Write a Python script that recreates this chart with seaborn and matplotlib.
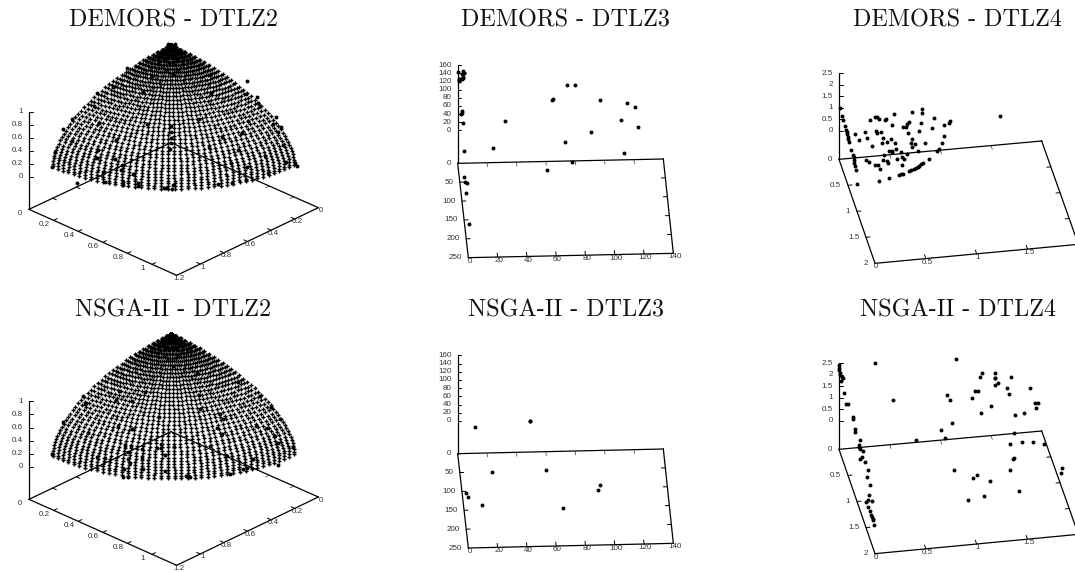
import numpy as np
import pandas as pd
import matplotlib
matplotlib.use("Agg")
import matplotlib.pyplot as plt
import seaborn as sns

sns.set_style("white")
plt.rcParams['font.family'] = ['Liberation Sans', 'DejaVu Sans']

# Pareto front grid of the DTLZ2 panels, read as angles on the sphere (degrees)
polar_deg = [0, 2.25, 4.5, 6.75, 9, 11.25, 13.5, 15.75, 18, 20.25, 22.5, 24.75, 27, 29.25, 31.5, 33.75, 36, 38.25,
             40.5, 42.75, 45, 47.25, 49.5, 51.75, 54, 56.25, 58.5, 60.75, 63, 65.25, 67.5, 69.75, 72, 74.25, 76.5,
             78.75, 81, 83.25, 85.5, 87.75, 90]
azim_deg = [0, 2.25, 4.5, 6.75, 9, 11.25, 13.5, 15.75, 18, 20.25, 22.5, 24.75, 27, 29.25, 31.5, 33.75, 36, 38.25,
            40.5, 42.75, 45, 47.25, 49.5, 51.75, 54, 56.25, 58.5, 60.75, 63, 65.25, 67.5, 69.75, 72, 74.25, 76.5,
            78.75, 81, 83.25, 85.5, 87.75, 90]

demors_dtlz2_u = [505, 525, 380, 457, 523, 630, 740, 338, 428, 633, 738, 772, 290, 775, 780, 283, 217, 296, 441, 598,
                  513, 743, 828, 188, 818, 843, 513, 513, 726, 835, 217, 348, 665, 850, 165, 293, 513, 510, 628, 715,
                  795, 292, 345, 367, 157, 858, 884, 892, 692, 740, 362, 398, 310, 230, 315, 370, 368, 415, 415, 493,
                  515, 497, 518, 655, 695, 738, 805]
demors_dtlz2_v = [132, 132, 203, 228, 226, 226, 244, 262, 275, 280, 282, 292, 280, 310, 318, 318, 357, 368, 373, 356,
                  378, 364, 350, 388, 373, 380, 395, 415, 398, 397, 422, 420, 412, 435, 456, 450, 430, 448, 440, 450,
                  468, 475, 477, 494, 500, 485, 490, 498, 490, 500, 510, 522, 515, 550, 547, 555, 545, 558, 548, 565,
                  566, 565, 555, 552, 550, 540, 520]
nsga_dtlz2_u = [248, 258, 255, 358, 435, 347, 395, 190, 263, 355, 397, 478, 598, 592, 520, 715, 780, 813, 660, 668,
                840, 800, 768, 652, 665, 825, 835, 880, 630, 375, 392, 470, 484, 482, 425, 522, 383, 495, 290, 315,
                427, 385, 390, 372, 430, 495, 368, 385, 558, 570, 690, 730, 740, 760, 835, 155, 680, 600]
nsga_dtlz2_v = [330, 350, 355, 315, 317, 343, 345, 407, 440, 420, 430, 394, 328, 262, 240, 287, 330, 362, 385, 400,
                400, 425, 420, 425, 445, 450, 470, 482, 480, 480, 480, 487, 475, 485, 490, 482, 497, 507, 513, 517,
                515, 520, 530, 550, 548, 555, 572, 574, 570, 574, 565, 550, 545, 520, 538, 505, 510, 370]
demors_dtlz3_u = [174, 178, 185, 188, 192, 186, 193, 188, 190, 181, 176, 178, 186, 185, 183, 189, 192, 278, 314, 441,
                  455, 460, 494, 501, 526, 515, 574, 601, 662, 672, 680, 706, 715, 193, 195, 200, 198, 207]
demors_dtlz3_v = [215, 240, 238, 213, 220, 222, 220, 235, 232, 236, 243, 237, 332, 340, 341, 370, 452, 445, 363, 511,
                  299, 297, 425, 254, 255, 487, 397, 300, 360, 460, 308, 322, 381, 532, 547, 549, 578, 672]
nsga_dtlz3_u = [224, 389, 391, 275, 438, 198, 203, 246, 490, 593, 600]
nsga_dtlz3_v = [424, 404, 405, 557, 551, 622, 633, 657, 667, 613, 597]
demors_dtlz4_u = [194, 202, 205, 210, 213, 215, 216, 218, 220, 223, 241, 252, 270, 276, 285, 292, 299, 306, 313, 302,
                  307, 318, 323, 322, 336, 348, 360, 330, 333, 358, 352, 411, 440, 441, 476, 439, 471, 383, 393, 395,
                  403, 398, 431, 411, 408, 411, 420, 449, 429, 364, 342, 350, 326, 350, 379, 380, 395, 366, 386, 382,
                  229, 235, 236, 237, 238, 240, 242, 247, 272, 283, 299, 309, 323, 336, 340, 315, 312, 343, 373, 379,
                  384, 402, 409, 416, 422, 428, 433, 438, 445, 463, 485, 491, 500, 508, 507, 522, 526, 676]
demors_dtlz4_v = [325, 349, 360, 378, 390, 397, 403, 410, 418, 425, 401, 419, 396, 413, 361, 439, 352, 351, 357, 394,
                  400, 397, 413, 430, 425, 418, 429, 360, 357, 342, 375, 336, 327, 340, 355, 370, 383, 380, 382, 372,
                  366, 398, 394, 418, 428, 440, 431, 428, 453, 447, 453, 457, 465, 454, 457, 470, 463, 476, 478, 494,
                  450, 465, 472, 480, 490, 498, 510, 552, 481, 487, 495, 494, 481, 484, 490, 508, 543, 535, 525, 523,
                  521, 514, 510, 507, 504, 500, 497, 493, 489, 476, 453, 446, 429, 408, 375, 370, 362, 348]
nsga_dtlz4_u = [191, 192, 193, 194, 196, 200, 205, 197, 206, 214, 219, 233, 234, 241, 240, 256, 253, 253, 254, 264,
                262, 255, 270, 278, 277, 285, 283, 278, 273, 290, 280, 285, 289, 291, 293, 295, 298, 300, 354, 424,
                497, 509, 530, 516, 525, 542, 590, 599, 610, 615, 620, 618, 649, 660, 660, 661, 659, 668, 696, 703,
                707, 721, 746, 764, 779, 789, 782, 718, 705, 742, 775, 807, 860, 857, 714, 718, 705, 732, 537, 595,
                607, 645, 628, 578]
nsga_dtlz4_v = [238, 245, 252, 260, 268, 274, 276, 286, 322, 354, 354, 392, 400, 428, 437, 462, 478, 484, 489, 495,
                514, 520, 528, 552, 572, 598, 626, 642, 649, 646, 662, 676, 688, 693, 698, 703, 716, 231, 342, 463,
                432, 455, 410, 326, 341, 220, 336, 316, 314, 273, 260, 380, 360, 262, 275, 276, 296, 292, 306, 324,
                273, 387, 380, 305, 350, 352, 367, 440, 474, 467, 469, 473, 546, 561, 520, 516, 552, 614, 551, 575,
                566, 585, 631, 643]

ticks_dtlz2 = [0, 0.2, 0.4, 0.6, 0.8, 1, 1.2]
ticks_dtlz2_z = [0, 0.2, 0.4, 0.6, 0.8, 1]
ticks_dtlz3_x = [0, 20, 40, 60, 80, 100, 120, 140]
ticks_dtlz3_y = [0, 50, 100, 150, 200, 250]
ticks_dtlz3_z = [0, 20, 40, 60, 80, 100, 120, 140, 160]
ticks_dtlz4_xy = [0, 0.5, 1, 1.5, 2]
ticks_dtlz4_z = [0, 0.5, 1, 1.5, 2, 2.5]


def new_panel(fig, x, y, w, h):
    ax = fig.add_axes([x / 1075, 1 - (y + h) / 572, w / 1075, h / 572])
    ax.set_xlim(0, w * 3)
    ax.set_ylim(h * 3, 0)
    ax.axis("off")
    return ax


def tick_text(ax, x, y, s, ha="center"):
    # gnuplot drops labels that fall outside the canvas
    if x > ax.get_xlim()[1] - 12:
        return
    ax.text(x, y, s, fontsize=5.8, color="#333333", ha=ha, va="center")


def fmt(v):
    return f"{v:g}"


def unit(p, q, n=12.0):
    d = np.array(q, float) - np.array(p, float)
    return d / np.hypot(*d) * n


def draw_box(ax, bl, br, fl, fr, xt, yt):
    bl, br, fl, fr = [np.array(c, float) for c in (bl, br, fl, fr)]
    for a, b in [(bl, br), (br, fr), (fr, fl), (fl, bl)]:
        ax.plot([a[0], b[0]], [a[1], b[1]], color="black", lw=0.9, solid_capstyle="projecting")
    for v in xt[1:-1]:
        f = v / xt[-1]
        p, q = bl + (br - bl) * f, fl + (fr - fl) * f
        s = unit(p, q)
        ax.plot([p[0], p[0] + s[0]], [p[1], p[1] + s[1]], color="#333333", lw=0.5)
        ax.plot([q[0], q[0] - s[0]], [q[1], q[1] - s[1]], color="black", lw=0.7)
    for v in yt[1:-1]:
        f = v / yt[-1]
        p, q = bl + (fl - bl) * f, br + (fr - br) * f
        s = unit(p, q)
        ax.plot([p[0], p[0] + s[0]], [p[1], p[1] + s[1]], color="black", lw=0.7)
        ax.plot([q[0], q[0] - s[0]], [q[1], q[1] - s[1]], color="black", lw=0.7)


def draw_z_axis(ax, x0, ybase, z0, zmax, zt):
    ax.plot([x0, x0], [ybase, zmax], color="black", lw=0.9)
    for t in zt:
        yy = z0 + (zmax - z0) * t / zt[-1]
        ax.plot([x0, x0 + 11], [yy, yy], color="black", lw=0.7)
        tick_text(ax, x0 - 19, yy, fmt(t), ha="right")


def draw_title(ax, title, title_xy):
    ax.text(title_xy[0], title_xy[1] + 5, title, fontsize=17.4, family=["cmr10", "Liberation Serif"],
            ha="center", va="center", color="#111111")


def draw_flat_panel(ax, title, u, v, bl, br, fl, fr, z0, zmax, xt, yt, zt, title_xy):
    draw_box(ax, bl, br, fl, fr, xt, yt)
    draw_z_axis(ax, bl[0], bl[1], z0, zmax, zt)
    for t in yt:
        f = t / yt[-1]
        tick_text(ax, bl[0] + (fl[0] - bl[0]) * f - 20, bl[1] + (fl[1] - bl[1]) * f, fmt(t), ha="right")
    for t in xt:
        f = t / xt[-1]
        tick_text(ax, fl[0] + (fr[0] - fl[0]) * f + 4, fl[1] + (fr[1] - fl[1]) * f + 11, fmt(t))
    sns.scatterplot(x=u, y=v, ax=ax, color="black", s=8, linewidth=0, legend=False, zorder=5)
    draw_title(ax, title, title_xy)


def draw_sphere_panel(ax, title, u, v, left, right, back, front, z0, ztop, title_xy):
    left, right, back, front = [np.array(c, float) for c in (left, right, back, front)]
    ea = (front - left) / 1.2
    eb = (front - right) / 1.2
    ez = z0 - ztop
    apex = back + np.array([0, z0 - left[1]])
    rows = []
    for pol in polar_deg:
        for az in azim_deg:
            p, q = np.radians(pol), np.radians(az)
            rows.append((np.sin(p) * np.cos(q), np.sin(p) * np.sin(q), np.cos(p)))
    grid = pd.DataFrame(rows, columns=["a", "b", "c"])
    grid["u"] = apex[0] + grid.a * ea[0] + grid.b * eb[0]
    grid["v"] = apex[1] + grid.a * ea[1] + grid.b * eb[1] - grid.c * ez

    draw_box(ax, back, right, left, front, ticks_dtlz2, ticks_dtlz2)
    draw_z_axis(ax, left[0], left[1], z0, ztop, ticks_dtlz2_z)
    for t in ticks_dtlz2[:-1]:
        p = left + ea * t
        tick_text(ax, p[0] - 28, p[1] + 12, fmt(t))
    for t in ticks_dtlz2:
        p = right + eb * t
        tick_text(ax, p[0] + 7, p[1] + 9, fmt(t))
    sns.scatterplot(data=grid, x="u", y="v", ax=ax, color="black", marker="+", s=12, linewidth=1.0,
                    legend=False, zorder=5)
    sns.scatterplot(x=u, y=v, ax=ax, color="black", s=8, linewidth=0, legend=False, zorder=6)
    draw_title(ax, title, title_xy)


fig = plt.figure(figsize=(10.75, 5.72), dpi=100)

ax = new_panel(fig, 0, 0, 350, 286)
draw_sphere_panel(ax, "DEMORS - DTLZ2", demors_dtlz2_u, demors_dtlz2_v,
                  (87, 628), (955, 623), (513, 428), (530, 826), 530, 335, (521, 55))
ax = new_panel(fig, 0, 286, 350, 286)
draw_sphere_panel(ax, "NSGA-II - DTLZ2", nsga_dtlz2_u, nsga_dtlz2_v,
                  (87, 640), (955, 633), (513, 437), (530, 838), 543, 346, (520, 68))

ax = new_panel(fig, 400, 0, 300, 286)
draw_flat_panel(ax, "DEMORS - DTLZ3", demors_dtlz3_u, demors_dtlz3_v, (173, 490), (790, 477), (205, 773), (820, 760),
                391, 196, ticks_dtlz3_x, ticks_dtlz3_y, ticks_dtlz3_z, (497, 55))
ax = new_panel(fig, 400, 286, 300, 286)
draw_flat_panel(ax, "NSGA-II - DTLZ3", nsga_dtlz3_u, nsga_dtlz3_v, (173, 503), (790, 489), (205, 786), (820, 772),
                405, 208, ticks_dtlz3_x, ticks_dtlz3_y, ticks_dtlz3_z, (498, 68))

ax = new_panel(fig, 775, 0, 300, 286)
draw_flat_panel(ax, "DEMORS - DTLZ4", demors_dtlz4_u, demors_dtlz4_v, (192, 478), (800, 423), (300, 790), (910, 733),
                392, 220, ticks_dtlz4_xy, ticks_dtlz4_xy, ticks_dtlz4_z, (548, 55))
ax = new_panel(fig, 775, 286, 300, 286)
draw_flat_panel(ax, "NSGA-II - DTLZ4", nsga_dtlz4_u, nsga_dtlz4_v, (192, 490), (800, 435), (300, 803), (910, 745),
                404, 232, ticks_dtlz4_xy, ticks_dtlz4_xy, ticks_dtlz4_z, (548, 68))

fig.savefig("out.png", dpi=100)
plt.close(fig)
